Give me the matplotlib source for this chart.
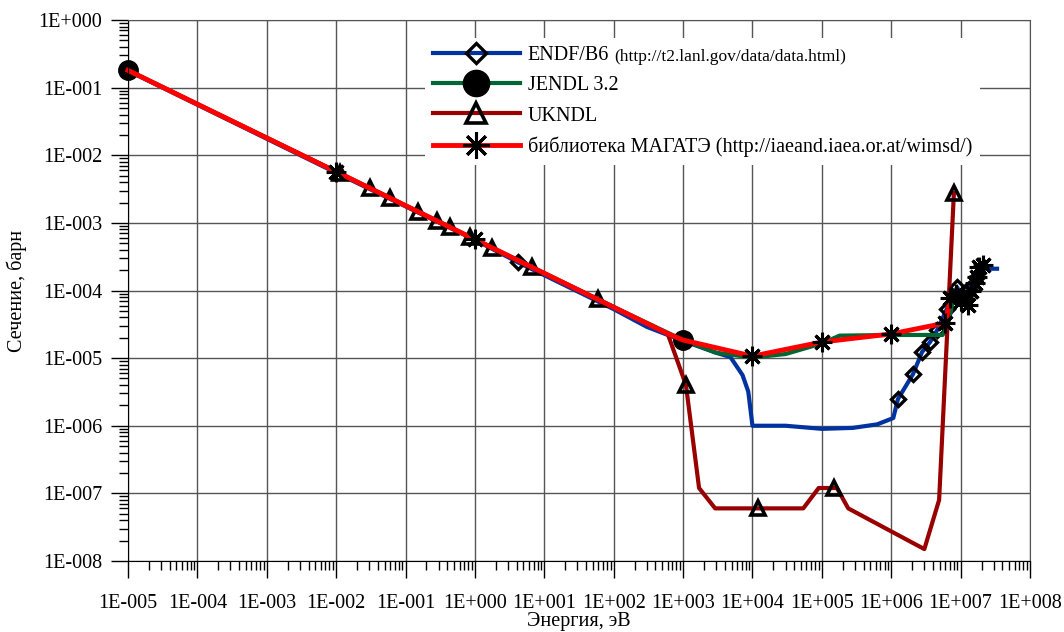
import math
import matplotlib.pyplot as plt
from matplotlib.ticker import LogLocator, FuncFormatter, NullFormatter

plt.rcParams['font.family'] = ['Liberation Serif', 'DejaVu Serif']

# ENDF/B6
endf_e = [1e-5, 1e-2, 1.0, 4.2, 100, 300, 1e3, 3e3, 4.8e3, 7.2e3, 8.7e3, 1e4,
          3e4, 1e5, 2.8e5, 6.3e5, 1.07e6, 1.25e6, 2.06e6, 2.78e6, 3.63e6, 4.6e6,
          6.3e6, 8.9e6, 1.05e7, 1.3e7, 1.7e7, 2.0e7, 3.35e7]
endf_s = [0.178, 5.5e-3, 5.6e-4, 2.6e-4, 5.3e-5, 2.9e-5, 1.8e-5, 1.2e-5, 1.04e-5,
          5.6e-6, 3.2e-6, 1.0e-6, 1.0e-6, 9.0e-7, 9.3e-7, 1.05e-6, 1.3e-6, 2.48e-6,
          5.8e-6, 1.23e-5, 1.73e-5, 2.6e-5, 5.3e-5, 1.12e-4, 8.0e-5, 1.05e-4,
          1.6e-4, 2.1e-4, 2.1e-4]
endf_marks = [3, 17, 18, 19, 20, 21, 22, 23, 24, 25, 26]

# JENDL 3.2
jendl_e = [1e-5, 1e-2, 1.0, 100, 1e3, 3e3, 1e4, 3e4, 1e5, 1.8e5, 1e6, 5.5e6,
           6.5e6, 8e6, 1e7, 1.3e7, 2e7]
jendl_s = [0.18, 5.7e-3, 5.7e-4, 5.7e-5, 1.85e-5, 1.2e-5, 1.02e-5, 1.15e-5,
           1.65e-5, 2.15e-5, 2.2e-5, 2.2e-5, 3.0e-5, 8.0e-5, 7.0e-5, 6.0e-5, 2.0e-4]
jendl_marks = [0, 4]

# UKNDL
ukndl_e = [1e-5, 0.0114, 0.0308, 0.0597, 0.151, 0.284, 0.438, 0.85, 1.77, 6.65,
           59.4, 600, 1.1e3, 1.7e3, 2.9e3, 1.2e4, 5.4e4, 9e4, 1.5e5, 1.65e5,
           2.4e5, 3e6, 4.9e6, 8e6]
ukndl_s = [0.18, 5.4e-3, 3.25e-3, 2.35e-3, 1.45e-3, 1.07e-3, 8.6e-4, 6.2e-4,
           4.3e-4, 2.2e-4, 7.4e-5, 2.3e-5, 4.0e-6, 1.2e-7, 6e-8, 6e-8, 6e-8,
           1.2e-7, 1.2e-7, 1.2e-7, 6e-8, 1.5e-8, 8e-8, 2.75e-3]
ukndl_marks = [1, 2, 3, 4, 5, 6, 7, 8, 9, 10, 12, 15, 18, 23]

# библиотека МАГАТЭ
iaea_e = [1e-5, 1e-2, 1.0, 600, 1e3, 1e4, 1e5, 1e6, 6e6, 7.1e6, 8.5e6, 1.0e7,
          1.1e7, 1.28e7, 1.4e7, 1.6e7, 1.75e7, 1.85e7, 2.1e7]
iaea_s = [0.18, 5.7e-3, 5.7e-4, 2.3e-5, 1.85e-5, 1.07e-5, 1.73e-5, 2.28e-5,
          3.3e-5, 7.7e-5, 9.0e-5, 7.0e-5, 8.5e-5, 6.1e-5, 1.0e-4, 1.3e-4,
          1.6e-4, 2.2e-4, 2.4e-4]
iaea_marks = [1, 2, 5, 6, 7, 8, 9, 10, 11, 12, 13, 14, 15, 16, 17, 18]

fig = plt.figure(figsize=(10.64, 6.32), dpi=100)
ax = fig.add_axes([128 / 1064, 71 / 632, 902 / 1064, 541 / 632])
ax.set_xscale('log')
ax.set_yscale('log')
ax.set_xlim(1e-5, 1e8)
ax.set_ylim(1e-8, 1e0)

ax.plot(endf_e, endf_s, color='#0033a0', lw=3, marker='D', ms=7.5, mew=2.4,
        mec='black', mfc='none', markevery=endf_marks, clip_on=False,
        label='ENDF/B6')
ax.plot(jendl_e, jendl_s, color='#006633', lw=3, marker='o', ms=14,
        mec='black', mfc='black', markevery=jendl_marks, clip_on=False,
        label='JENDL 3.2')
ax.plot(ukndl_e, ukndl_s, color='#990000', lw=3, marker='^', ms=10.5, mew=2.6,
        mec='black', mfc='none', markevery=ukndl_marks, clip_on=False,
        label='UKNDL')
ax.plot(iaea_e, iaea_s, color='#ff0000', lw=3.5, marker=(8, 2, 0), ms=14, mew=2.2,
        mec='black', markevery=iaea_marks, clip_on=False,
        label='библиотека МАГАТЭ (http://iaeand.iaea.or.at/wimsd/)')

ax.xaxis.set_major_locator(LogLocator(base=10, numticks=20))
ax.xaxis.set_minor_locator(LogLocator(base=10, subs=range(2, 10), numticks=20))
ax.yaxis.set_major_locator(LogLocator(base=10, numticks=20))
ax.yaxis.set_minor_locator(LogLocator(base=10, subs=range(2, 10), numticks=20))
sci = FuncFormatter(lambda v, p: '1E{:+04d}'.format(int(round(math.log10(v)))))
ax.xaxis.set_major_formatter(sci)
ax.yaxis.set_major_formatter(sci)
ax.xaxis.set_minor_formatter(NullFormatter())
ax.yaxis.set_minor_formatter(NullFormatter())
ax.tick_params(which='major', direction='out', length=12.5, width=1, labelsize=14.5)
ax.tick_params(which='minor', direction='out', length=6.5, width=1)
ax.tick_params(axis='x', which='major', pad=11)
ax.tick_params(axis='y', which='major', pad=6)

ax.grid(which='major', color='#555555', lw=1)
ax.set_axisbelow(True)
for side in ['top', 'right']:
    ax.spines[side].set_color('#555555')

ax.set_xlabel('Энергия, эВ', fontsize=14.5)
ax.set_ylabel('Сечение, барн', fontsize=14.5)
ax.xaxis.set_label_coords(0.5, -0.094)
ax.yaxis.set_label_coords(-0.112, 0.5)

leg = ax.legend(loc='upper left', bbox_to_anchor=(425 / 1064, 1 - 38 / 632),
                bbox_transform=fig.transFigure, fontsize=14.5, frameon=True,
                facecolor='white', edgecolor='none', framealpha=1, fancybox=False,
                handlelength=4.3, handletextpad=0.4, labelspacing=0.55,
                borderpad=0.4, borderaxespad=0, markerscale=1.35)
leg.set_zorder(5)

ax.annotate('(http://t2.lanl.gov/data/data.html)', xy=(1, 0),
            xycoords=leg.get_texts()[0], xytext=(4, 0), textcoords='offset points',
            fontsize=12.5, va='bottom', ha='left', zorder=10, annotation_clip=False)

fig.savefig('out.png', dpi=100)
